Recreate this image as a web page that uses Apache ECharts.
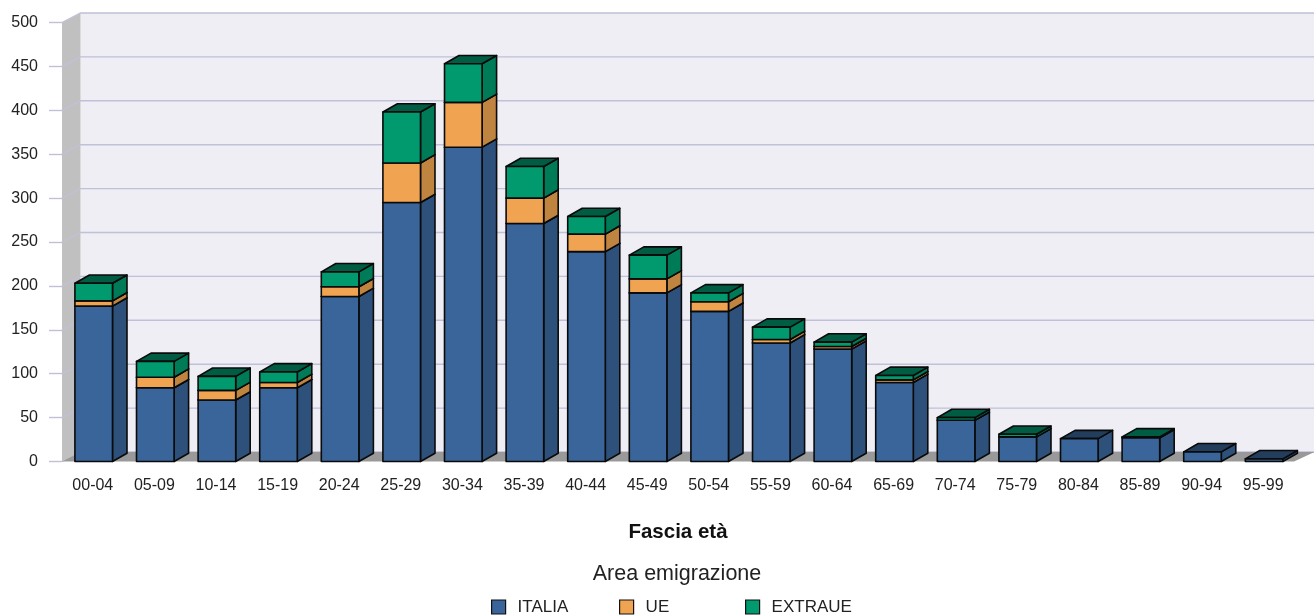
<!DOCTYPE html>
<html>
<head>
<meta charset="utf-8">
<style>html,body{margin:0;padding:0;background:#fff}#c{width:1314px;height:615px}</style>
<script src="https://cdn.jsdelivr.net/npm/echarts@6/dist/echarts.min.js"></script>
</head>
<body>
<div id="c"></div>
<script>
const categories = ['00-04','05-09','10-14','15-19','20-24','25-29','30-34','35-39','40-44','45-49','50-54','55-59','60-64','65-69','70-74','75-79','80-84','85-89','90-94','95-99'];
const italia  = [177,84,70,84,188,295,358,271,239,192,171,135,128,90,47,28,26,27,11,3];
const ue      = [6,12,11,6,11,45,51,29,20,16,11,4,3,3,0,0,0,0,0,0];
const extraue = [20,18,16,12,17,58,44,36,20,27,10,14,5,5,3,3,0,1,0,0];
const yTicks = [0,50,100,150,200,250,300,350,400,450,500];

const FONT = '"Liberation Sans", Arial, sans-serif';
const WALL_DX = 18.5, WALL_DY = 9.5, BAR_DX = 14.5, BAR_DY = 8.3, BAR_RATIO = 0.61;
const OUTLINE = '#0a0a0a';
const palette = {
  ITALIA:  {front:'#3a659a', side:'#2e517b', top:'#233d5c'},
  UE:      {front:'#f0a452', side:'#c08441', top:'#906331'},
  EXTRAUE: {front:'#009a6e', side:'#007b58', top:'#005c42'}
};

function poly(points, fill, stroke, lw){
  return {type:'polygon', shape:{points}, silent:true,
          style:{fill, stroke: stroke||null, lineWidth: lw||0, lineJoin:'round'}};
}

function barSeries(name, values, bases){
  const c = palette[name];
  const data = values.map((v,i)=>[i, bases[i], bases[i]+v, v]);
  return {
    type:'custom', name, coordinateSystem:'cartesian2d', z:5,
    itemStyle:{color:c.front}, encode:{x:0,y:2}, data,
    renderItem(params, api){
      if(api.value(3) <= 0) return null;
      const idx = api.value(0);
      const lo = api.coord([idx, api.value(1)]);
      const hi = api.coord([idx, api.value(2)]);
      const w = api.size([1,0])[0]*BAR_RATIO;
      const x0 = lo[0]-w/2+0.9, x1 = x0+w, yb = lo[1], yt = hi[1];
      return {type:'group', children:[
        poly([[x1,yb],[x1+BAR_DX,yb-BAR_DY],[x1+BAR_DX,yt-BAR_DY],[x1,yt]], c.side, OUTLINE, 1.6),
        poly([[x0,yt],[x0+BAR_DX,yt-BAR_DY],[x1+BAR_DX,yt-BAR_DY],[x1,yt]], c.top, OUTLINE, 1.6),
        poly([[x0,yb],[x1,yb],[x1,yt],[x0,yt]], c.front, OUTLINE, 1.6)
      ]};
    }
  };
}

const baseUe = italia.slice();
const baseEx = italia.map((v,i)=>v+ue[i]);

const wallSeries = {
  type:'custom', name:'pareti', coordinateSystem:'cartesian2d', z:1, silent:true,
  encode:{y:1}, data:[[0,0]],
  renderItem(params, api){
    const s = params.coordSys, x=s.x, y=s.y, r=s.x+s.width, b=s.y+s.height;
    return {type:'group', children:[
      poly([[x+WALL_DX,y-WALL_DY],[r+WALL_DX+2,y-WALL_DY],[r+WALL_DX+2,b-WALL_DY],[x+WALL_DX,b-WALL_DY]], '#eeeef4'),
      poly([[x,y],[x+WALL_DX,y-WALL_DY],[x+WALL_DX,b-WALL_DY],[x,b]], '#c0c0c0')
    ]};
  }
};
const gridSeries = {
  type:'custom', name:'griglia', coordinateSystem:'cartesian2d', z:2, silent:true,
  encode:{y:1}, data: yTicks.map(t=>[0,t]),
  renderItem(params, api){
    const s = params.coordSys, p = api.coord([0, api.value(1)]);
    const yy = p[1], x = s.x, r = s.x+s.width;
    const st = {stroke:'#c0c0d8', lineWidth:1.4, fill:null};
    return {type:'group', children:[
      {type:'polyline', silent:true, shape:{points:[[x,yy],[x+WALL_DX,yy-WALL_DY],[r+WALL_DX+2,yy-WALL_DY]]}, style:st}
    ]};
  }
};
const floorSeries = {
  type:'custom', name:'pavimento', coordinateSystem:'cartesian2d', z:3, silent:true,
  encode:{y:1}, data:[[0,0]],
  renderItem(params, api){
    const s = params.coordSys, x=s.x, r=s.x+s.width, b=s.y+s.height;
    return poly([[x,b],[x+WALL_DX,b-WALL_DY],[r+WALL_DX+2,b-WALL_DY],[r,b]], '#999999');
  }
};

const legendCommon = {
  top:598.5, itemWidth:14, itemHeight:14, itemGap:0, icon:'rect', selectedMode:false,
  itemStyle:{borderColor:'#111', borderWidth:1.2},
  textStyle:{fontFamily:FONT, fontSize:17, color:'#222', padding:[0,0,0,7]}, padding:0
};

const chart = echarts.init(document.getElementById('c'), null, {renderer:'canvas', width:1314, height:615});
chart.setOption({
  animation:false,
  backgroundColor:'#ffffff',
  grid:{left:62, width:1232, top:22.5, height:439},
  title:{text:'Area emigrazione', left:672, top:558.5, textAlign:'center',
         textStyle:{fontFamily:FONT, fontSize:21.5, fontWeight:'normal', color:'#222'}},
  legend:[
    Object.assign({}, legendCommon, {left:491, data:['ITALIA']}),
    Object.assign({}, legendCommon, {left:619, data:['UE']}),
    Object.assign({}, legendCommon, {left:745, data:['EXTRAUE']})
  ],
  xAxis:{
    type:'category', data:categories, name:'Fascia età', nameLocation:'middle', nameGap:60,
    nameTextStyle:{fontFamily:FONT, fontSize:20.5, fontWeight:'bold', color:'#111'},
    axisLine:{show:false}, axisTick:{show:false},
    axisLabel:{fontFamily:FONT, fontSize:16, color:'#222', margin:16, interval:0}
  },
  yAxis:{
    type:'value', min:0, max:500, interval:50,
    axisLine:{show:false}, splitLine:{show:false},
    axisTick:{show:true, length:13, lineStyle:{color:'#c0c0d8', width:1.4}},
    axisLabel:{fontFamily:FONT, fontSize:16, color:'#222', margin:24}
  },
  series:[
    wallSeries, gridSeries, floorSeries,
    barSeries('ITALIA', italia, italia.map(()=>0)),
    barSeries('UE', ue, baseUe),
    barSeries('EXTRAUE', extraue, baseEx)
  ]
});
</script>
</body>
</html>
